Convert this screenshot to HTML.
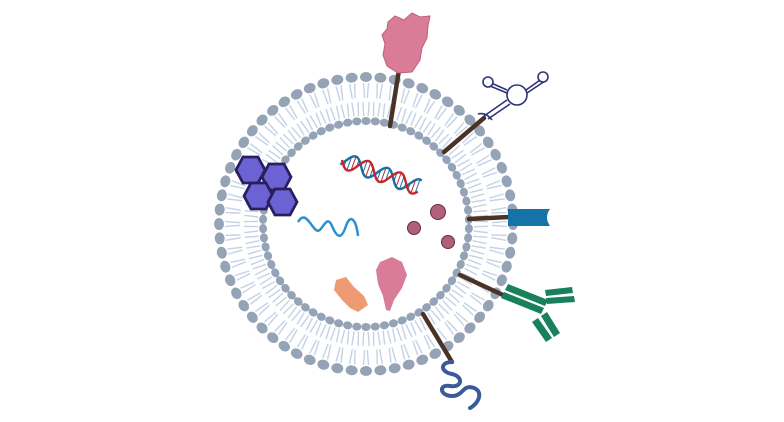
<!DOCTYPE html>
<html><head><meta charset="utf-8"><style>html,body{margin:0;padding:0;background:#fff;width:784px;height:422px;overflow:hidden}</style></head>
<body>
<svg id="s" width="784" height="422" viewBox="0 0 784 422" xmlns="http://www.w3.org/2000/svg">
<g id="mem"></g>
<g stroke="#4a3326" stroke-width="4.5" stroke-linecap="round">
<line x1="390" y1="126" x2="399" y2="70"/>
<line x1="444" y1="152" x2="484" y2="118"/>
<line x1="469" y1="219" x2="510" y2="217"/>
<line x1="460" y1="275" x2="503" y2="295"/>
<line x1="423" y1="314" x2="452" y2="362"/>
</g>
<path d="M388 22 L395 16 L404 20 L412 13 L420 17 L430 16 L428 26 L427 38 L422 48 L420 60 L412 72 L398 73 L387 66 L383 55 L385 44 L382 35 L387 29 Z" fill="#d97c98" stroke="#c0607e" stroke-width="1"/>
<g stroke="#2c3477" fill="#fff" stroke-width="1.6">
<line x1="484" y1="116" x2="507" y2="100"/>
<line x1="488" y1="119" x2="510" y2="104"/>
<line x1="489" y1="82" x2="507" y2="90"/>
<line x1="490" y1="86" x2="507" y2="93"/>
<line x1="526" y1="90" x2="543" y2="78"/>
<line x1="527" y1="93" x2="545" y2="81"/>
<circle cx="517" cy="95" r="10"/>
<circle cx="488" cy="82" r="5"/>
<circle cx="543" cy="77" r="5"/>
<path d="M478 114 Q486 112 492 120" fill="none"/>
</g>
<path d="M508 209 L550 209 Q544 217 550 226 L508 226 Z" fill="#1673a8"/>
<g fill="#18805a">
<polygon points="508,284 548,300 545,306 505,290"/>
<polygon points="504,292 544,308 541,314 501,298"/>
<polygon points="545,290 572,287 573,293 546,296"/>
<polygon points="546,298 574,296 575,302 547,304"/>
<polygon points="532,322 538,318 552,338 546,342"/>
<polygon points="541,316 547,312 560,333 554,337"/>
</g>
<path d="M452 362 C440 362 440 372 452 374 C464 377 462 388 450 386 C438 384 440 396 452 396 C464 396 462 384 474 388 C484 392 478 404 470 408" fill="none" stroke="#3b5a9a" stroke-width="4" stroke-dasharray="2.5 0.8" stroke-linecap="round"/>
<g fill="#6b63d4" stroke="#2a1f5e" stroke-width="2.8">
<polygon points="265,170 258,183 243,183 236,170 243,157 258,157"/>
<polygon points="291,177 284,190 269,190 262,177 269,164 284,164"/>
<polygon points="273,196 266,209 251,209 244,196 251,183 266,183"/>
<polygon points="297,202 290,215 275,215 268,202 275,189 290,189"/>
</g>
<g id="dna"></g>
<path d="M298 222 C305 210 310 225 316 230 S326 212 332 226 S342 238 346 226 S356 218 358 236" fill="none" stroke="#2e8fd0" stroke-width="2.5"/>
<g fill="#b0607a" stroke="#6b2a40" stroke-width="1">
<circle cx="438" cy="212" r="7.5"/><circle cx="414" cy="228" r="6.5"/><circle cx="448" cy="242" r="6.5"/>
</g>
<path d="M380 262 L392 257 L402 262 L407 275 L402 288 L394 300 L390 311 L386 310 L383 296 L378 284 L376 270 Z" fill="#d97c98"/>
<path d="M336 280 L346 277 L354 287 L364 296 L368 305 L358 312 L350 308 L342 300 L334 290 Z" fill="#ee9a72"/>
</svg>
<script>
var g=document.getElementById('mem'),cx=366,cy=224,h='';
var N=64;
for(var i=0;i<N;i++){var a=2*Math.PI*i/N,c=Math.cos(a),s=Math.sin(a);
 for(var k=-1;k<=1;k+=2){var o=k*0.018;
  h+='<line x1="'+(cx+141*Math.cos(a+o))+'" y1="'+(cy+141*Math.sin(a+o))+'" x2="'+(cx+126*Math.cos(a+o*0.6))+'" y2="'+(cy+126*Math.sin(a+o*0.6))+'" stroke="#c5d2e6" stroke-width="1.4"/>';}
 h+='<ellipse cx="'+(cx+147*c)+'" cy="'+(cy+147*s)+'" rx="5" ry="6" transform="rotate('+(a*180/Math.PI)+' '+(cx+147*c)+' '+(cy+147*s)+')" fill="#95a3b6"/>';}
var M=70;
for(var i=0;i<M;i++){var a=2*Math.PI*(i+.5)/M,c=Math.cos(a),s=Math.sin(a);
 for(var k=-1;k<=1;k+=2){var o=k*0.02;
  h+='<line x1="'+(cx+108*Math.cos(a+o))+'" y1="'+(cy+108*Math.sin(a+o))+'" x2="'+(cx+122*Math.cos(a+o*1.3))+'" y2="'+(cy+122*Math.sin(a+o*1.3))+'" stroke="#c5d2e6" stroke-width="1.4"/>';}
 h+='<ellipse cx="'+(cx+103*c)+'" cy="'+(cy+103*s)+'" rx="4" ry="4.6" transform="rotate('+(a*180/Math.PI)+' '+(cx+103*c)+' '+(cy+103*s)+')" fill="#95a3b6"/>';}
g.innerHTML=h;
// DNA helix
var x0=342,y0=160,x1=420,y1=188,L=Math.hypot(x1-x0,y1-y0),ux=(x1-x0)/L,uy=(y1-y0)/L,nx=-uy,ny=ux,A=8,P=34;
function pt(t,ph){var w=A*Math.sin(2*Math.PI*t/P+ph);return [x0+ux*t+nx*w,y0+uy*t+ny*w];}
var r='',b='',rungs='';
for(var t=0;t<=L;t+=1){var p=pt(t,0),q=pt(t,Math.PI*0.8);r+=(t?'L':'M')+p[0].toFixed(1)+' '+p[1].toFixed(1);b+=(t?'L':'M')+q[0].toFixed(1)+' '+q[1].toFixed(1);
 if(t%4==0&&t>2){rungs+='<line x1="'+p[0]+'" y1="'+p[1]+'" x2="'+q[0]+'" y2="'+q[1]+'" stroke="'+(t%8?'#c0282d':'#1a6fa0')+'" stroke-width="1"/>';}}
document.getElementById('dna').innerHTML=rungs+'<path d="'+b+'" fill="none" stroke="#1a6fa0" stroke-width="2.4"/><path d="'+r+'" fill="none" stroke="#c0282d" stroke-width="2.4"/>';
</script>
</body></html>
